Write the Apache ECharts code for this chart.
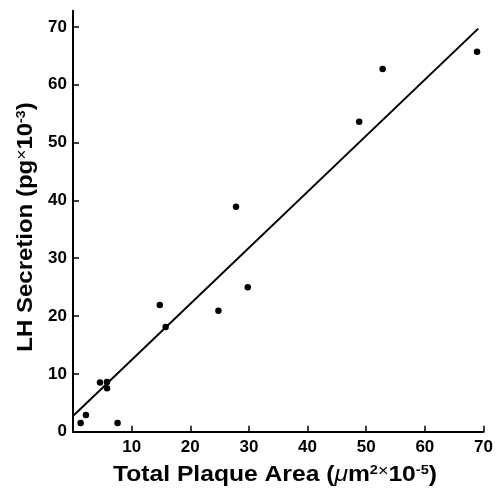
<!DOCTYPE html>
<html>
<head>
<meta charset="utf-8">
<script src="https://cdn.jsdelivr.net/npm/echarts@6/dist/echarts.min.js"></script>
<style>
html,body{margin:0;padding:0;background:#fff;}
#c{width:497px;height:489px;}
</style>
</head>
<body>
<div id="c"></div>
<script>
// Data
const plaqueArea = [1.3, 2.2, 4.6, 5.8, 5.8, 7.6, 14.8, 15.8, 24.8, 27.8, 29.8, 48.8, 52.8, 68.9];
const lhSecretion = [1.5, 2.9, 8.5, 8.6, 7.5, 1.5, 21.9, 18.1, 20.9, 38.9, 25.0, 53.6, 62.7, 65.7];
const fitX = [0, 69.1];
const fitY = [2.7, 69.7];
const xTicks = [10, 20, 30, 40, 50, 60, 70];
const yTicks = [0, 10, 20, 30, 40, 50, 60, 70];

const points = plaqueArea.map((x, i) => [x, lhSecretion[i]]);
const fitLine = fitX.map((x, i) => [x, fitY[i]]);

const chart = echarts.init(document.getElementById('c'), null, {renderer: 'canvas'});
const FONT = '"Liberation Sans", Arial, Helvetica, sans-serif';
const axisCommon = {
  axisLine: {show: true, onZero: false, lineStyle: {color: '#000', width: 2}},
  axisTick: {show: true, inside: true, length: 6, lineStyle: {color: '#000', width: 1.5}},
  splitLine: {show: false},
  axisLabel: {color: '#000', fontFamily: FONT, fontWeight: 'bold', fontSize: 17}
};
const titleRich = {
  b: {fontFamily: FONT, fontWeight: 'bold', fontSize: 22, color: '#000'},
  mu: {fontFamily: FONT, fontSize: 22, fontStyle: 'italic', color: '#000'},
  sup: {fontFamily: FONT, fontWeight: 'bold', fontSize: 13, color: '#000', verticalAlign: 'top'},
  x: {fontFamily: FONT, fontSize: 16, color: '#000', verticalAlign: 'top'}
};
chart.setOption({
  animation: false,
  backgroundColor: '#fff',
  grid: {left: 73, right: 13.5, top: 10.7, bottom: 57.3, containLabel: false},
  xAxis: Object.assign({}, axisCommon, {
    type: 'value', min: 0, max: 70, interval: 10,
    axisTick: Object.assign({}, axisCommon.axisTick, {customValues: xTicks}),
    axisLabel: Object.assign({}, axisCommon.axisLabel, {customValues: xTicks, margin: 7})
  }),
  yAxis: Object.assign({}, axisCommon, {
    type: 'value', min: 0, max: 72.8,
    axisTick: Object.assign({}, axisCommon.axisTick, {customValues: yTicks}),
    axisLabel: Object.assign({}, axisCommon.axisLabel, {customValues: yTicks, margin: 6})
  }),
  graphic: [
    {
      type: 'text', x: 275, y: 464, scaleX: 1.12,
      style: {
        text: '{b|Total Plaque Area (}{mu|μ}{b|m}{sup|2}{x|×}{b|10}{sup|-5}{b|)}',
        rich: titleRich, align: 'center', verticalAlign: 'top'
      }
    },
    {
      type: 'text', x: 15, y: 227, rotation: Math.PI / 2, scaleX: 1.09,
      style: {
        text: '{b|LH Secretion (pg}{x|×}{b|10}{sup|-3}{b|)}',
        rich: titleRich, align: 'center', verticalAlign: 'top'
      }
    }
  ],
  series: [
    {
      type: 'line', data: fitLine, symbol: 'none', silent: true,
      lineStyle: {color: '#000', width: 2}
    },
    {
      type: 'scatter', data: points, symbol: 'circle', symbolSize: 6.5,
      itemStyle: {color: '#000', opacity: 1}
    }
  ]
});
</script>
</body>
</html>
